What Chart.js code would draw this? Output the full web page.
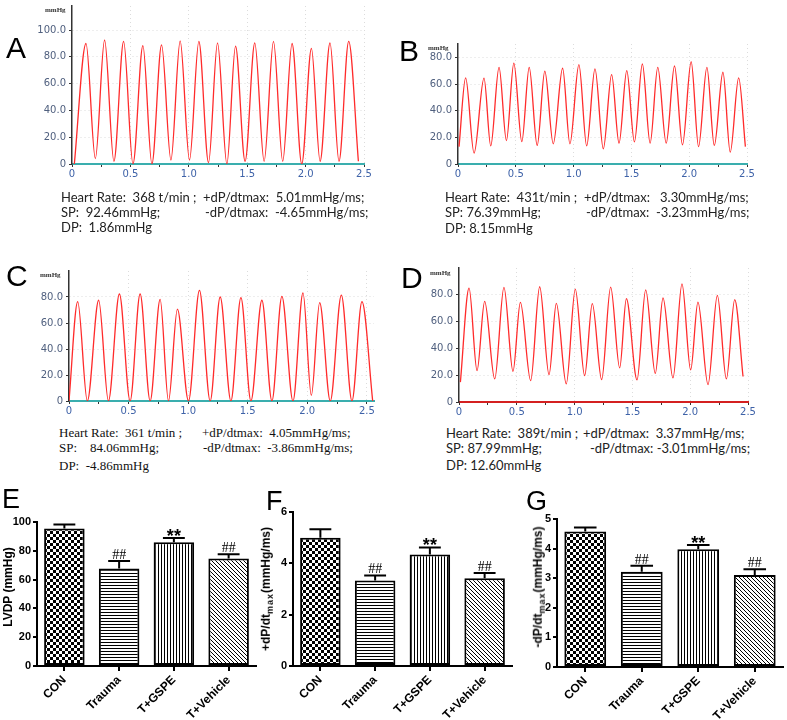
<!DOCTYPE html>
<html>
<head>
<meta charset="utf-8">
<script src="https://cdn.jsdelivr.net/npm/chart.js@4.4.1/dist/chart.umd.min.js"></script>
<style>
body { margin: 0; background: #fff; }
#fig { position: relative; width: 787px; height: 720px; overflow: hidden; background: #fff; }
#fig canvas { position: absolute; }
.letter { position: absolute; font-family: "Liberation Sans", Arial, sans-serif; line-height: 1; color: #000; }
.stat { position: absolute; font-family: Lato, "Liberation Sans", sans-serif; font-size: 13px; line-height: 14px; white-space: pre; color: #222; }
.stat.serif { font-family: "Liberation Serif", serif; font-size: 13px; color: #111; }
.unit { position: absolute; font: bold 7px "Liberation Serif", serif; color: #333; line-height: 8px; }
.ytitle { position: absolute; font: bold 12px "Liberation Sans", Arial, sans-serif; white-space: nowrap; transform: translate(-50%, -50%) rotate(-90deg); }
.ytitle sub { font-size: 9px; letter-spacing: 1px; }
</style>
</head>
<body>
<div id="fig"></div>
<script>
'use strict';
// waveform traces: time (s) and pressure (mmHg) at every peak and trough
let aT = [0.02, 0.12, 0.20, 0.279, 0.359, 0.442, 0.522, 0.607, 0.684, 0.767, 0.847, 0.926, 1.006, 1.086, 1.169, 1.246, 1.326, 1.40, 1.482, 1.565, 1.645, 1.725, 1.804, 1.884, 1.967, 2.05, 2.124, 2.209, 2.286, 2.369, 2.452];
let aP = [0, 90, 4, 92.6, 2, 91.6, 0, 88.4, 0, 88.9, 3, 92, 3, 91.6, 1, 90.4, 0, 88, 2, 90.4, 2, 91.6, 2, 90, 0, 86.4, 2, 90.4, 2, 91.6, 2];
let bT = [0.009, 0.066, 0.139, 0.225, 0.283, 0.355, 0.419, 0.483, 0.552, 0.616, 0.685, 0.751, 0.824, 0.905, 0.968, 1.046, 1.113, 1.185, 1.257, 1.329, 1.393, 1.460, 1.526, 1.595, 1.662, 1.728, 1.801, 1.873, 1.942, 2.017, 2.081, 2.153, 2.217, 2.292, 2.355, 2.428, 2.486];
let bP = [13, 64.6, 8.2, 64.4, 13.6, 72.5, 17.6, 75.7, 16.8, 72.5, 13.9, 69.6, 15.1, 71.8, 15.1, 74.5, 13.6, 71.3, 11.4, 67.1, 15.6, 70, 16.6, 75, 15.6, 72.5, 15.6, 73.5, 14.4, 76.7, 13.1, 72.5, 13.9, 68.8, 8.9, 64.6, 13];
let cT = [0, 0.073, 0.154, 0.249, 0.331, 0.423, 0.513, 0.597, 0.681, 0.765, 0.835, 0.910, 1.003, 1.095, 1.185, 1.269, 1.359, 1.443, 1.527, 1.619, 1.703, 1.787, 1.880, 1.964, 2.034, 2.104, 2.193, 2.286, 2.375, 2.459, 2.549];
let cP = [0, 76.4, 0, 77.5, 0, 82.3, 0, 82.3, 0, 78.2, 0, 70.6, 0, 85.1, 0, 80, 0, 79.5, 0, 77.5, 0, 80.5, 0, 83.1, 4.3, 75.7, 0, 81.5, 0, 76.4, 0];
let dT = [0.012, 0.087, 0.156, 0.222, 0.309, 0.389, 0.467, 0.531, 0.620, 0.698, 0.779, 0.842, 0.928, 1.006, 1.087, 1.153, 1.234, 1.312, 1.390, 1.448, 1.540, 1.615, 1.698, 1.765, 1.851, 1.929, 2.004, 2.067, 2.154, 2.235, 2.313, 2.385, 2.457];
let dP = [14.8, 85, 23.4, 75.1, 17.2, 85.5, 22.9, 74.4, 16, 86, 20.4, 73.6, 13.5, 84.2, 19.7, 73.4, 16.7, 85.7, 25.4, 77.1, 16.5, 83.7, 21.4, 77.6, 18, 88.2, 23.9, 74.6, 13, 79.6, 17.2, 76.4, 19];
let waveXTicks = [0, 0.25, 0.5, 0.75, 1, 1.25, 1.5, 1.75, 2, 2.25, 2.5];
let waveYTicks = [0, 20, 40, 60, 80, 100];

// bar panels: mean and upper error (SD)
let groups = ['CON', 'Trauma', 'T+GSPE', 'T+Vehicle'];
let lvdp = [95.4, 67.7, 85.9, 74.6];
let lvdpErr = [2.8, 5.3, 3.0, 3.0];
let dpMax = [5.0, 3.33, 4.34, 3.42];
let dpMaxErr = [0.33, 0.2, 0.28, 0.2];
let dpMin = [4.58, 3.22, 3.98, 3.11];
let dpMinErr = [0.13, 0.2, 0.14, 0.19];
let marks = ['', '##', '**', '##'];
let lvdpTicks = [0, 20, 40, 60, 80, 100];
let dpMaxTicks = [0, 2, 4, 6];
let dpMinTicks = [0, 1, 2, 3, 4, 5];

let fig = document.getElementById('fig');

function addDiv(cls, html, left, top, extra) {
  let d = document.createElement('div');
  d.className = cls;
  d.innerHTML = html;
  d.style.left = left + 'px';
  d.style.top = top + 'px';
  if (extra) Object.assign(d.style, extra);
  fig.appendChild(d);
  return d;
}

function makeCanvas(left, top, w, h) {
  let c = document.createElement('canvas');
  c.width = w; c.height = h;
  c.style.left = left + 'px';
  c.style.top = top + 'px';
  c.style.width = w + 'px';
  c.style.height = h + 'px';
  fig.appendChild(c);
  return c;
}

function fmtTick(v) {
  return v === 0 ? '0' : v.toFixed(1);
}

// box = plot area in page pixels
function waveChart(times, press, box, yMax, xMax, xAxisColor) {
  let padL = 50, padT = 8, padR = 14, padB = 18;
  let w = Math.round(box.r - box.l + padL + padR);
  let h = Math.round(box.b - box.t + padT + padB);
  let canvas = makeCanvas(box.l - padL, box.t - padT, w, h);
  let pts = times.map((t, i) => ({ x: t, y: press[i] }));
  let halfStep = v => Math.abs(v * 2 - Math.round(v * 2)) < 1e-6;
  new Chart(canvas, {
    type: 'line',
    data: { datasets: [{ data: pts, borderColor: '#ff2b2b', borderWidth: 1.3, pointRadius: 0, cubicInterpolationMode: 'monotone', fill: false }] },
    options: {
      responsive: false, animation: false, events: [],
      layout: { padding: { top: padT, right: padR, left: 0, bottom: 0 } },
      plugins: { legend: { display: false }, tooltip: { enabled: false } },
      scales: {
        x: {
          type: 'linear', min: 0, max: xMax,
          afterBuildTicks: s => { s.ticks = waveXTicks.map(v => ({ value: v })); },
          afterFit: s => { s.height = padB; },
          ticks: {
            color: '#3e62a8', font: { family: 'DejaVu Sans', size: 10 }, padding: 1, maxRotation: 0, autoSkip: false,
            callback: v => halfStep(v) ? fmtTick(v) : ''
          },
          grid: { color: c => (c.tick && c.tick.value > 0 && halfStep(c.tick.value)) ? '#dcdcdc' : 'rgba(0,0,0,0)', tickColor: '#333', tickLength: 3 },
          border: { color: xAxisColor, width: 2, dash: [1, 3] }
        },
        y: {
          min: 0, max: yMax,
          afterBuildTicks: s => { s.ticks = waveYTicks.filter(v => v < yMax - 5).map(v => ({ value: v })); },
          afterFit: s => { s.width = padL; },
          ticks: { color: '#4f5f7e', font: { family: 'DejaVu Sans', size: 10 }, padding: 3, callback: v => fmtTick(v) },
          grid: { color: c => (c.tick && c.tick.value > 0) ? '#dcdcdc' : 'rgba(0,0,0,0)', tickColor: '#333', tickLength: 3 },
          border: { color: '#333', width: 1.5, dash: [1, 3] }
        }
      }
    }
  });
}

function makePattern(kind) {
  let c = document.createElement('canvas');
  let g = c.getContext('2d');
  let n = kind === 'check' ? 6 : (kind === 'diag' ? 4 : 3);
  c.width = n; c.height = n;
  g.fillStyle = '#fff';
  g.fillRect(0, 0, n, n);
  g.fillStyle = '#000';
  if (kind === 'check') { g.fillRect(0, 0, 3, 3); g.fillRect(3, 3, 3, 3); }
  if (kind === 'h') g.fillRect(0, 0, n, 1);
  if (kind === 'v') g.fillRect(0, 0, 1, n);
  if (kind === 'diag') { for (let i = 0; i < n; i++) g.fillRect(i, i, 1, 1); }
  return g.createPattern(c, 'repeat');
}
let fills = [makePattern('check'), makePattern('h'), makePattern('v'), makePattern('diag')];

function barChart(vals, errs, ticks, box, yMax) {
  let padL = 32, padT = 12, padR = 8, padB = 720 - box.b;
  let w = Math.round(box.r - box.l + padL + padR);
  let h = Math.round(box.b - box.t + padT + padB);
  let canvas = makeCanvas(box.l - padL, box.t - padT, w, h);
  let errorPlugin = {
    id: 'errs',
    afterDatasetsDraw(chart) {
      let ctx = chart.ctx;
      let ys = chart.scales.y;
      chart.getDatasetMeta(0).data.forEach((bar, i) => {
        let top = ys.getPixelForValue(vals[i] + errs[i]);
        let cw = bar.width * 0.27;
        ctx.save();
        ctx.strokeStyle = '#000';
        ctx.lineWidth = 2;
        ctx.beginPath();
        ctx.moveTo(bar.x, bar.y);
        ctx.lineTo(bar.x, top);
        ctx.moveTo(bar.x - cw, top);
        ctx.lineTo(bar.x + cw, top);
        ctx.stroke();
        ctx.fillStyle = '#000';
        ctx.textAlign = 'center';
        ctx.textBaseline = 'alphabetic';
        if (marks[i] === '##') {
          ctx.font = '14px "Liberation Serif"';
          ctx.fillText(marks[i], bar.x, top - 2);
        } else if (marks[i] === '**') {
          ctx.font = 'bold 18px "Liberation Sans"';
          ctx.fillText(marks[i], bar.x, top + 4);
        }
        ctx.restore();
      });
    }
  };
  new Chart(canvas, {
    type: 'bar',
    data: { labels: groups, datasets: [{ data: vals, backgroundColor: fills, borderColor: '#000', borderWidth: 2, borderSkipped: false, barPercentage: 0.74, categoryPercentage: 1 }] },
    options: {
      responsive: false, animation: false, events: [],
      layout: { padding: { top: padT, right: padR, left: 0, bottom: 0 } },
      plugins: { legend: { display: false }, tooltip: { enabled: false } },
      scales: {
        x: {
          afterFit: s => { s.height = padB; },
          ticks: { color: '#000', font: { family: 'Liberation Sans', weight: 'bold', size: 12 }, minRotation: 45, maxRotation: 45, padding: 2 },
          grid: { offset: false, drawOnChartArea: false, color: '#000', lineWidth: 2, tickLength: 5 },
          border: { color: '#000', width: 2 }
        },
        y: {
          min: 0, max: yMax,
          afterBuildTicks: s => { s.ticks = ticks.map(v => ({ value: v })); },
          afterFit: s => { s.width = padL; },
          ticks: { color: '#000', font: { family: 'Liberation Sans', weight: 'bold', size: 11 }, padding: 2 },
          grid: { drawOnChartArea: false, color: '#000', lineWidth: 2, tickLength: 4 },
          border: { color: '#000', width: 2 }
        }
      }
    },
    plugins: [errorPlugin]
  });
}

// pressure traces
waveChart(aT, aP, { l: 72, r: 364, t: 164 - 118 * 1.347, b: 164 }, 118, 2.5, '#3aaeae');
waveChart(bT, bP, { l: 458, r: 747, t: 164 - 90 * 1.34, b: 164 }, 90, 2.5, '#3aaeae');
waveChart(cT, cP, { l: 69, r: 69 + 2.56 * 119, t: 401 - 100 * 1.31, b: 401 }, 100, 2.56, '#3aaeae');
waveChart(dT, dP, { l: 459, r: 748, t: 402 - 100 * 1.354, b: 402 }, 100, 2.5, '#d42020');

// bar panels
barChart(lvdp, lvdpErr, lvdpTicks, { l: 37, r: 256, t: 522, b: 666 }, 100);
barChart(dpMax, dpMaxErr, dpMaxTicks, { l: 293, r: 512, t: 512, b: 666 }, 6);
barChart(dpMin, dpMinErr, dpMinTicks, { l: 557, r: 783, t: 519, b: 667 }, 5);

// panel letters
[['A', 6, 33, 30], ['B', 399, 36, 30], ['C', 6, 261, 30], ['D', 401, 263, 30],
 ['E', 2, 486, 27], ['F', 266, 488, 27], ['G', 526, 488, 27]].forEach(p => {
  addDiv('letter', p[0], p[1], p[2], { fontSize: p[3] + 'px' });
});

// unit captions
addDiv('unit', 'mmHg', 45, 6);
addDiv('unit', 'mmHg', 428, 44);
addDiv('unit', 'mmHg', 40, 271);
addDiv('unit', 'mmHg', 430, 269);

// measurement text
addDiv('stat', 'Heart Rate:  368 t/min ;', 61, 190);
addDiv('stat', '+dP/dtmax:  5.01mmHg/ms;', 203, 190);
addDiv('stat', 'SP:  92.46mmHg;', 61, 205);
addDiv('stat', '-dP/dtmax:  -4.65mmHg/ms;', 205, 205);
addDiv('stat', 'DP:  1.86mmHg', 61, 220);

addDiv('stat', 'Heart Rate:  431t/min ;', 445, 190);
addDiv('stat', '+dP/dtmax:   3.30mmHg/ms;', 584, 190);
addDiv('stat', 'SP: 76.39mmHg;', 445, 205);
addDiv('stat', '-dP/dtmax:  -3.23mmHg/ms;', 586, 205);
addDiv('stat', 'DP: 8.15mmHg', 445, 221);

addDiv('stat serif', 'Heart Rate:  361 t/min ;', 59, 426);
addDiv('stat serif', '+dP/dtmax:  4.05mmHg/ms;', 202, 426);
addDiv('stat serif', 'SP:    84.06mmHg;', 59, 441);
addDiv('stat serif', '-dP/dtmax:  -3.86mmHg/ms;', 203, 441);
addDiv('stat serif', 'DP:  -4.86mmHg', 59, 459);

addDiv('stat', 'Heart Rate:  389t/min ;', 446, 426);
addDiv('stat', '+dP/dtmax:  3.37mmHg/ms;', 583, 426);
addDiv('stat', 'SP: 87.99mmHg;', 446, 441);
addDiv('stat', '-dP/dtmax: -3.01mmHg/ms;', 590, 441);
addDiv('stat', 'DP: 12.60mmHg', 446, 458);

// bar y-axis titles
addDiv('ytitle', 'LVDP (mmHg)', 8, 587);
addDiv('ytitle', '+dP/dt<sub>max</sub>(mmHg/ms)', 267, 589);
addDiv('ytitle', '-dP/dt<sub>max</sub>(mmHg/ms)', 539, 587);
</script>
</body>
</html>
